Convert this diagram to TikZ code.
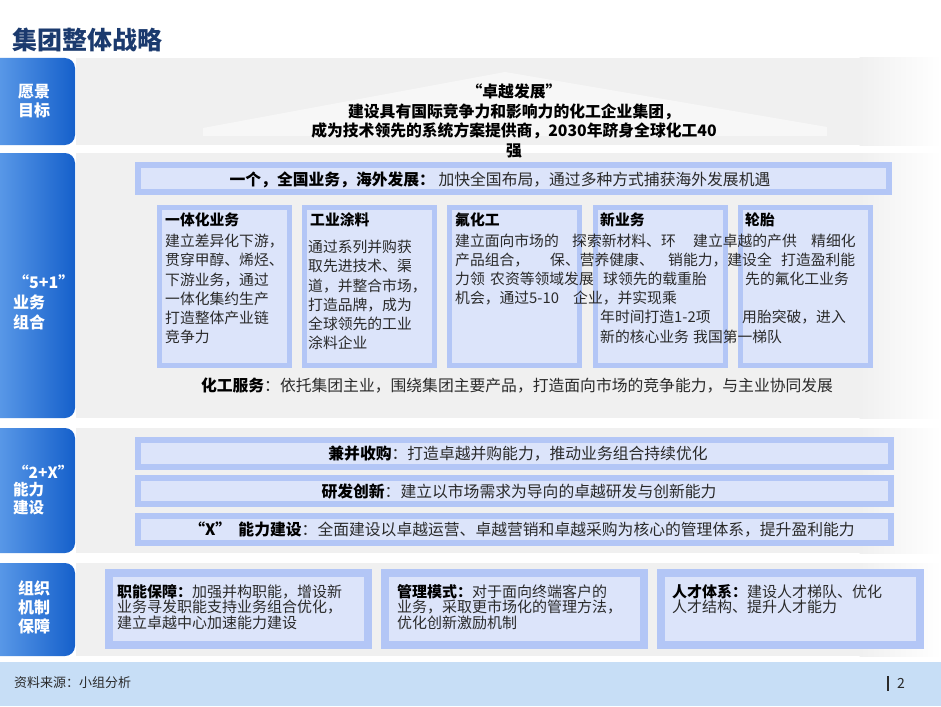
\documentclass[tikz,border=0pt]{standalone}
\usepackage{fontspec}
\setmainfont{Noto Sans CJK SC}
\newcommand\myfs[2]{\fontsize{#1}{#2}\selectfont}
\definecolor{tabL}{HTML}{6AA6EE}
\definecolor{tabR}{HTML}{1560CB}
\definecolor{panel}{HTML}{F0F0F0}
\definecolor{bout}{HTML}{B3C6F6}
\definecolor{bin}{HTML}{DCE4FA}
\definecolor{foot}{HTML}{C7DEF6}
\definecolor{navy}{HTML}{1B3A6E}
\definecolor{txt}{HTML}{2A2A2A}
\begin{document}
\begin{tikzpicture}[x=1pt,y=-1pt,
  tab/.style={rounded corners=10pt, left color=tabL, right color=tabR, draw=none, inner sep=0pt, minimum width=95pt},
  tablbl/.style={text=white, inner sep=0pt},
  bbox/.style={fill=bin, draw=bout, inner sep=0pt},
  seg/.style={anchor=west, inner sep=0pt, text=txt, font=\myfs{14.8}{19.2}},
  btitle/.style={anchor=west, inner sep=0pt, text=black, font=\myfs{14.8}{19.2}\bfseries},
  body/.style={anchor=west, inner sep=0pt, align=left, text=txt, font=\myfs{14.8}{19.2}},
  bartext/.style={inner sep=0pt, text=txt, font=\myfs{15.8}{19}},
  orgtext/.style={anchor=west, inner sep=0pt, align=left, text=txt, font=\myfs{15}{15.2}},
]
\useasboundingbox (0,0) rectangle (941,706);
\fill[white] (0,0) rectangle (941,706);

% gray panels
\fill[panel] (76,58) rectangle (860,145);
\shade[left color=panel, right color=white] (859.5,58) rectangle (941,145);
\fill[panel] (76,153) rectangle (860,418);
\shade[left color=panel, right color=white] (859.5,153) rectangle (941,418);
\fill[panel] (76,428) rectangle (860,553);
\shade[left color=panel, right color=white] (859.5,428) rectangle (941,553);
\fill[panel] (76,563) rectangle (860,656);
\shade[left color=panel, right color=white] (859.5,563) rectangle (941,656);

% roof
\fill[white, opacity=0.5] (203,128) -- (505,72) -- (827,127) -- (827,136) -- (203,136) -- cycle;

% tabs
\node[tab, minimum height=87pt]  (tab1) at (27.5,101.5) {};
\node[tab, minimum height=265pt] (tab2) at (27.5,285.5) {};
\node[tab, minimum height=125pt] (tab3) at (27.5,490.5) {};
\node[tab, minimum height=93pt]  (tab4) at (27.5,609.5) {};
\node[tablbl, align=center, font=\myfs{16}{18.5}\bfseries] (lab1) at (34,101) {愿景\\目标};
\node[tablbl, anchor=west, align=left, font=\myfs{16}{20}\bfseries] (lab2) at (13,302) {“5+1”\\业务\\组合};
\node[tablbl, anchor=west, align=left, font=\myfs{15.5}{17.5}\bfseries] (lab3) at (13,490) {“2+X”\\能力\\建设};
\node[tablbl, align=center, font=\myfs{16}{19}\bfseries] (lab4) at (34,607) {组织\\机制\\保障};

% title
\node[anchor=west, inner sep=0pt, text=navy, font=\myfs{25}{30}\bfseries] (title) at (12,40) {集团整体战略};

% vision
\node[inner sep=0pt, align=center, font=\myfs{15.8}{19.4}\bfseries] (vision) at (514,121)
  {“卓越发展”\\建设具有国际竞争力和影响力的化工企业集团，\\成为技术领先的系统方案提供商，2030年跻身全球化工40\\强};

% row 2
\node[bbox, line width=6pt, minimum width=751pt, minimum height=27pt] (one) at (513.5,178.5) {};
\node[bartext] (onetxt) at (500,180) {\textbf{\textcolor{black}{一个，全国业务，海外发展：}}\ 加快全国布局，通过多种方式捕获海外发展机遇};

\node[bbox, line width=5pt, minimum width=130pt, minimum height=158pt] (b1) at (224.5,286.5) {};
\node[bbox, line width=5pt, minimum width=130pt, minimum height=158pt] (b2) at (369.5,286.5) {};
\node[bbox, line width=5pt, minimum width=130pt, minimum height=158pt] (b3) at (514.5,286.5) {};
\node[bbox, line width=5pt, minimum width=130pt, minimum height=158pt] (b4) at (660,286.5) {};
\node[bbox, line width=5pt, minimum width=130pt, minimum height=158pt] (b5) at (805.5,286.5) {};

\node[btitle] (t1) at (165,220) {一体化业务};
\node[body] (x1) at (165,289) {建立差异化下游，\\贯穿甲醇、烯烃、\\下游业务，通过\\一体化集约生产\\打造整体产业链\\竞争力};
\node[btitle] (t2) at (310,220) {工业涂料};
\node[body] (x2) at (308,295) {通过系列并购获\\取先进技术、渠\\道，并整合市场，\\打造品牌，成为\\全球领先的工业\\涂料企业};
\node[btitle] (t3) at (455,220) {氟化工};
\node[btitle] (t4) at (600,220) {新业务};
\node[btitle] (t5) at (745,220) {轮胎};

% overlapping text lines of boxes 3-5
\node[seg] (s11) at (455,241) {建立面向市场的};
\node[seg] (s12) at (572,241) {探索新材料、环};
\node[seg] (s13) at (693,241) {建立卓越的产供};
\node[seg] (s14) at (811,241) {精细化};
\node[seg] (s21) at (455,260) {产品组合，};
\node[seg] (s22) at (550,260) {保、营养健康、};
\node[seg] (s23) at (668,260) {销能力，建设全};
\node[seg] (s24) at (781,260) {打造盈利能};
\node[seg] (s31) at (455,279) {力领};
\node[seg] (s32) at (490,279) {农资等领域发展};
\node[seg] (s33) at (603,279) {球领先的载重胎};
\node[seg] (s34) at (745,279) {先的氟化工业务};
\node[seg] (s41) at (455,298) {机会，通过5-10};
\node[seg] (s42) at (573,298) {企业，并实现乘};
\node[seg] (s51) at (600,317) {年时间打造1-2项};
\node[seg] (s52) at (742,317) {用胎突破，进入};
\node[seg] (s61) at (600,337) {新的核心业务};
\node[seg] (s62) at (693,337) {我国第一梯队};

\node[bartext] (svc) at (517,386) {\textbf{\textcolor{black}{化工服务}}：依托集团主业，围绕集团主要产品，打造面向市场的竞争能力，与主业协同发展};

% row 3
\node[bbox, line width=6pt, minimum width=753pt, minimum height=27pt] (c1) at (514.5,453.5) {};
\node[bbox, line width=6pt, minimum width=753pt, minimum height=26pt] (c2) at (514.5,491) {};
\node[bbox, line width=6pt, minimum width=753pt, minimum height=27pt] (c3) at (514.5,529.5) {};
\node[bartext] (c1t) at (518,453.5) {\textbf{\textcolor{black}{兼并收购}}：打造卓越并购能力，推动业务组合持续优化};
\node[bartext] (c2t) at (519,491) {\textbf{\textcolor{black}{研发创新}}：建立以市场需求为导向的卓越研发与创新能力};
\node[bartext] (c3t) at (522,529.5) {\textbf{\textcolor{black}{“X”\ \ 能力建设}}：全面建设以卓越运营、卓越营销和卓越采购为核心的管理体系，提升盈利能力};

% row 4
\node[bbox, line width=8pt, minimum width=259pt, minimum height=72pt] (d1) at (238.5,609) {};
\node[bbox, line width=8pt, minimum width=259pt, minimum height=72pt] (d2) at (514.5,609) {};
\node[bbox, line width=8pt, minimum width=259pt, minimum height=72pt] (d3) at (790.5,609) {};
\node[orgtext] (d1t) at (117,607) {\textbf{\textcolor{black}{职能保障：}}加强并构职能，增设新\\业务寻发职能支持业务组合优化，\\建立卓越中心加速能力建设};
\node[orgtext] (d2t) at (397,607) {\textbf{\textcolor{black}{管理模式：}}对于面向终端客户的\\业务，采取更市场化的管理方法，\\优化创新激励机制};
\node[orgtext] (d3t) at (672,599.5) {\textbf{\textcolor{black}{人才体系：}}建设人才梯队、优化\\人才结构、提升人才能力};

% footer
\fill[foot] (0,662) rectangle (941,706);
\node[anchor=west, inner sep=0pt, text=txt, font=\myfs{13}{15}] (src) at (14,683) {资料来源：小组分析};
\coordinate (barA) at (888,676);
\coordinate (barB) at (888,691);
\draw[line width=1.3pt, txt] (barA) -- (barB);
\node[anchor=west, inner sep=0pt, text=txt, font=\myfs{14}{16}] (pg) at (897,683.5) {2};
\end{tikzpicture}
\end{document}
